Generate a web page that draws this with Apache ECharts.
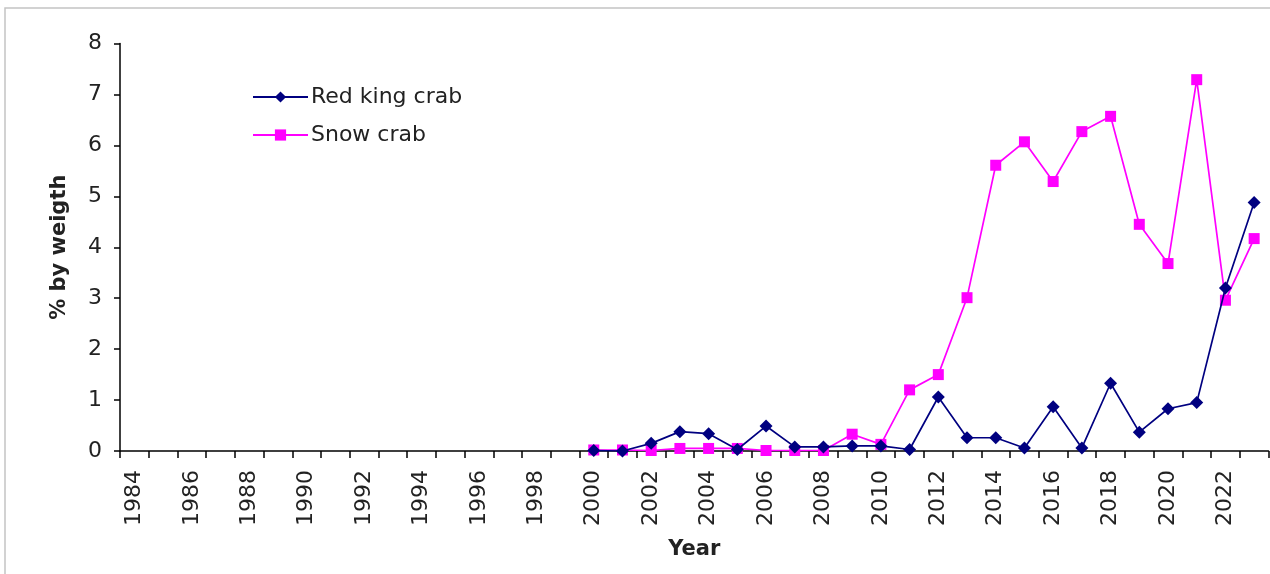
<!DOCTYPE html>
<html>
<head>
<meta charset="utf-8">
<script src="https://cdn.jsdelivr.net/npm/echarts@6/dist/echarts.min.js"></script>
<style>
html,body{margin:0;padding:0;background:#fff;}
#chart{width:1270px;height:574px;}
</style>
</head>
<body>
<div id="chart"></div>
<script>
const years = [];
for (let y = 1984; y <= 2023; y++) years.push(String(y));

// 1984–1999 have no data
const redKingCrab = [null,null,null,null,null,null,null,null,null,null,null,null,null,null,null,null,
  0.01, 0.0, 0.15, 0.38, 0.34, 0.03, 0.49, 0.08, 0.08, 0.1, 0.1, 0.03, 1.06, 0.26, 0.26, 0.06, 0.87, 0.06, 1.33, 0.37, 0.83, 0.95, 3.2, 4.88];
const snowCrab = [null,null,null,null,null,null,null,null,null,null,null,null,null,null,null,null,
  0.02, 0.02, 0.01, 0.05, 0.05, 0.05, 0.01, 0.01, 0.01, 0.33, 0.13, 1.2, 1.5, 3.01, 5.61, 6.07, 5.29, 6.27, 6.57, 4.45, 3.68, 7.29, 2.96, 4.17];

const chart = echarts.init(document.getElementById('chart'));
const font = 'DejaVu Sans';
chart.setOption({
  animation: false,
  backgroundColor: '#fff',
  graphic: [{
    type: 'rect', shape: {x: 5, y: 8, width: 1300, height: 600},
    style: {fill: 'none', stroke: '#c4c4c4', lineWidth: 1.5}, silent: true
  }],
  grid: {left: 120, right: 1.5, top: 43.5, bottom: 123, containLabel: false},
  legend: {
    orient: 'vertical', left: 247, top: 81, itemWidth: 55, itemHeight: 14, itemGap: 16,
    textStyle: {fontFamily: font, fontSize: 22, color: '#222', padding: [0,0,0,-2]},
    data: ['Red king crab', 'Snow crab']
  },
  xAxis: {
    type: 'category', data: years, boundaryGap: true,
    name: 'Year', nameLocation: 'middle', nameGap: 88,
    nameTextStyle: {fontFamily: font, fontSize: 21, fontWeight: 'bold', color: '#222'},
    axisLine: {lineStyle: {color: '#000', width: 1.5}},
    axisTick: {show: true, interval: 0, length: 7, lineStyle: {color: '#000', width: 1.5}},
    axisLabel: {interval: 1, rotate: 90, margin: 19, fontFamily: font, fontSize: 22, color: '#222'},
    splitLine: {show: false}
  },
  yAxis: {
    type: 'value', min: 0, max: 8, interval: 1,
    name: '% by weigth', nameLocation: 'middle', nameGap: 50, nameRotate: 90,
    nameTextStyle: {fontFamily: font, fontSize: 21, fontWeight: 'bold', color: '#222'},
    axisLine: {show: true, lineStyle: {color: '#000', width: 1.5}},
    axisTick: {show: true, length: 6, lineStyle: {color: '#000', width: 1.5}},
    axisLabel: {margin: 18, fontFamily: font, fontSize: 22, color: '#222'},
    splitLine: {show: false}
  },
  series: [
    {
      name: 'Red king crab', type: 'line', data: redKingCrab, connectNulls: false,
      symbol: 'diamond', symbolSize: 13, z: 3,
      lineStyle: {color: '#000080', width: 1.7},
      itemStyle: {color: '#000080'}
    },
    {
      name: 'Snow crab', type: 'line', data: snowCrab, connectNulls: false,
      symbol: 'rect', symbolSize: 11, z: 2,
      lineStyle: {color: '#ff00ff', width: 1.7},
      itemStyle: {color: '#ff00ff'}
    }
  ]
});
</script>
</body>
</html>
